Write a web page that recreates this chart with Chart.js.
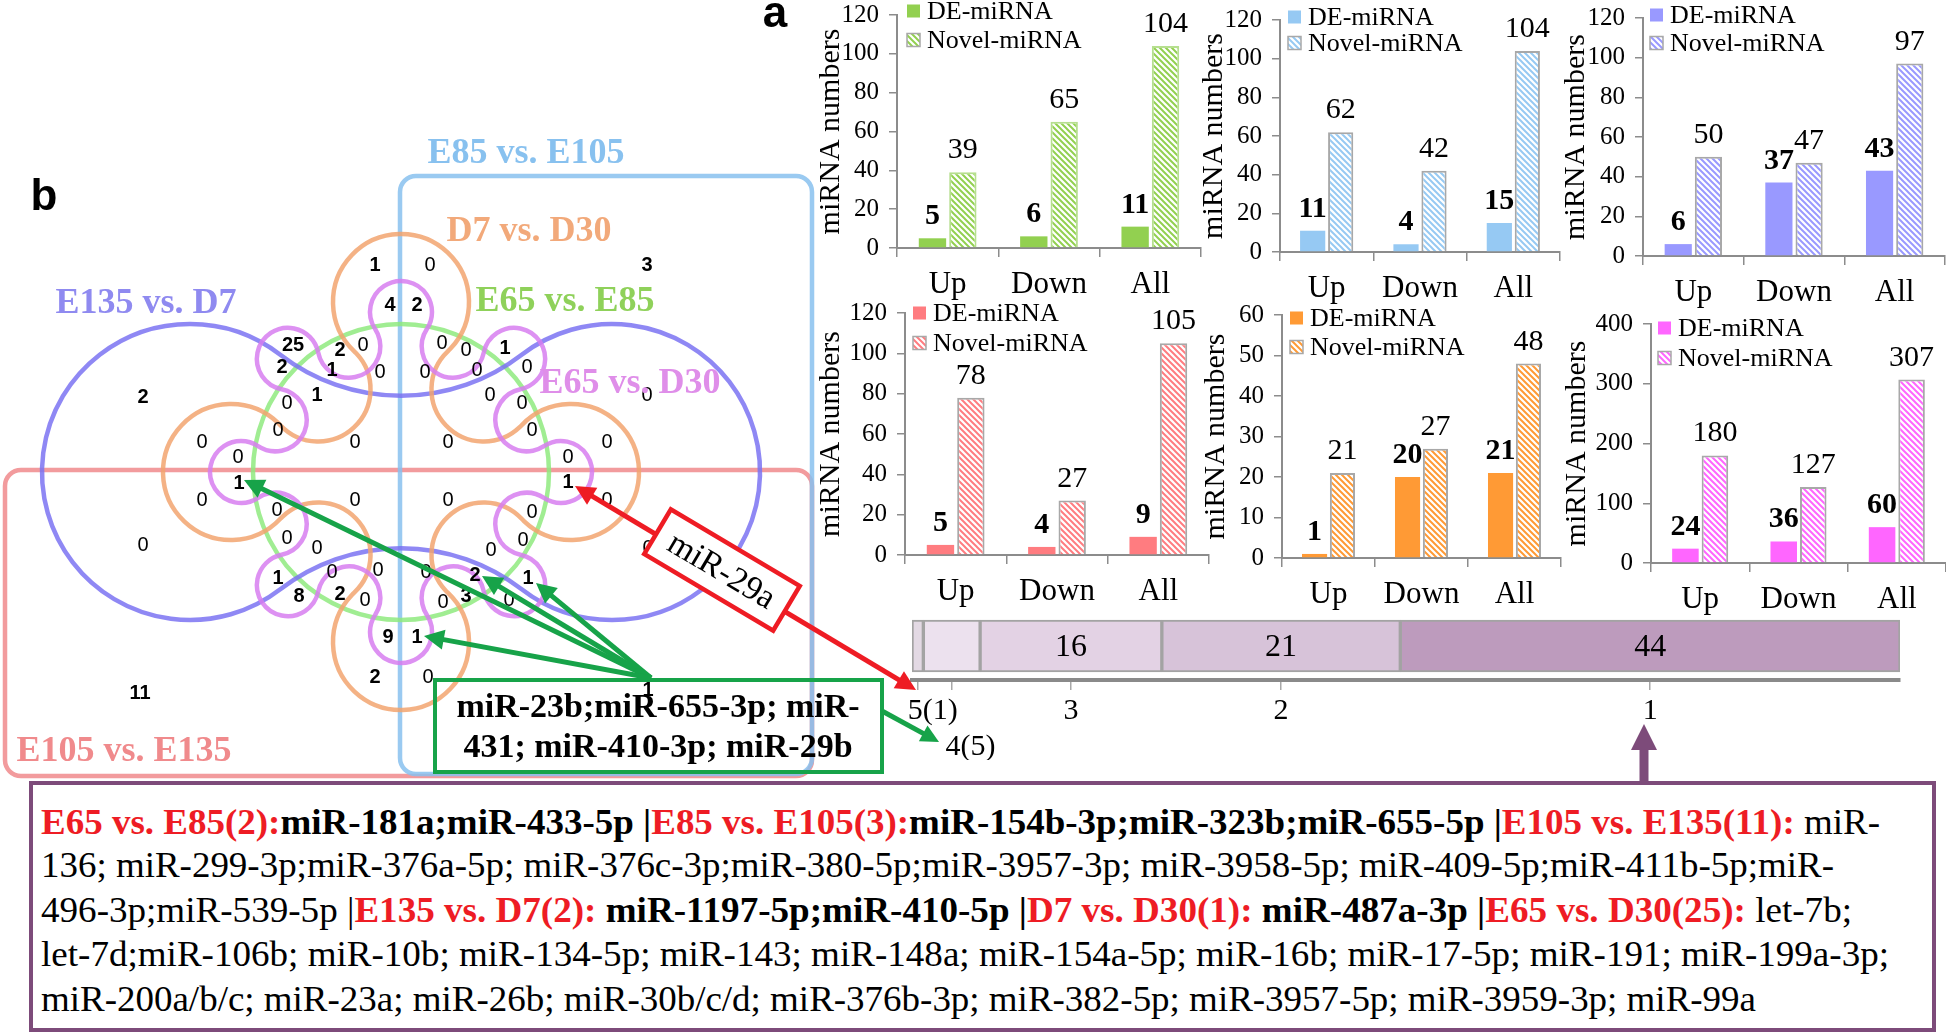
<!DOCTYPE html>
<html>
<head>
<meta charset="utf-8">
<title>DE-miRNA / Novel-miRNA</title>
<script src="https://cdn.jsdelivr.net/npm/chart.js@4.4.1/dist/chart.umd.min.js"></script>
<style>
  body { margin: 0; width: 1946px; height: 1033px; overflow: hidden; background: #fff; position: relative;
         font-family: "Liberation Serif", "Times New Roman", serif; }
  canvas { position: absolute; }
  #venn { z-index: 5; }
  #listBox { position: absolute; left: 29px; top: 781px; width: 1907px; height: 251px; box-sizing: border-box;
             border: 4px solid #7d4b7a; }
  .ln { position: absolute; left: 41px; white-space: nowrap; font-size: 36px; line-height: 1; transform-origin: 0 0; }
  .r { color: #ee1c24; font-weight: bold; }
  .b { font-weight: bold; }
</style>
</head>
<body>
<div id="listBox"></div>
<div class="ln" style="top:804px" data-w="1839"><span class="r">E65 vs. E85(2):</span><span class="b">miR-181a;miR-433-5p |</span><span class="r">E85 vs. E105(3):</span><span class="b">miR-154b-3p;miR-323b;miR-655-5p |</span><span class="r">E105 vs. E135(11):</span> miR-</div>
<div class="ln" style="top:847px" data-w="1793">136; miR-299-3p;miR-376a-5p; miR-376c-3p;miR-380-5p;miR-3957-3p; miR-3958-5p; miR-409-5p;miR-411b-5p;miR-</div>
<div class="ln" style="top:892px" data-w="1811">496-3p;miR-539-5p |<span class="r">E135 vs. D7(2):</span><span class="b"> miR-1197-5p;miR-410-5p |</span><span class="r">D7 vs. D30(1):</span><span class="b"> miR-487a-3p |</span><span class="r">E65 vs. D30(25):</span> let-7b;</div>
<div class="ln" style="top:936px" data-w="1848">let-7d;miR-106b; miR-10b; miR-134-5p; miR-143; miR-148a; miR-154a-5p; miR-16b; miR-17-5p; miR-191; miR-199a-3p;</div>
<div class="ln" style="top:981px" data-w="1715">miR-200a/b/c; miR-23a; miR-26b; miR-30b/c/d; miR-376b-3p; miR-382-5p; miR-3957-5p; miR-3959-3p; miR-99a</div>
<canvas id="stack" width="1060" height="160" style="left:860px;top:600px"></canvas>
<canvas id="venn" width="1946" height="1033" style="left:0;top:0"></canvas>
<script>
// ---- data ----
const categories = ['Up', 'Down', 'All'];

const deE65E85 = [5, 6, 11];
const novelE65E85 = [39, 65, 104];
const deE85E105 = [11, 4, 15];
const novelE85E105 = [62, 42, 104];
const deE135D7 = [6, 37, 43];
const novelE135D7 = [50, 47, 97];
const deE105E135 = [5, 4, 9];
const novelE105E135 = [78, 27, 105];
const deD7D30 = [1, 20, 21];
const novelD7D30 = [21, 27, 48];
const deE65D30 = [24, 36, 60];
const novelE65D30 = [180, 127, 307];

// miRNAs shared by n comparisons (label) and how many
const sharedBy = ['5(1)', '4(5)', '3', '2', '1'];
const sharedCounts = [1, 5, 16, 21, 44];

// counts of the Venn regions
const vennCounts = ['3', '1', '0', '4', '2', '25', '2', '0', '0', '0', '1', '2', '1', '0', '0', '0', '0',
  '2', '1', '0', '0', '0', '0', '0', '0', '0', '0', '0', '0', '0', '0', '1', '1',
  '0', '0', '0', '0', '0', '0', '0', '0', '0', '0', '0', '0', '0', '0', '0', '2', '1', '1', '8', '2',
  '0', '0', '3', '0', '9', '1', '2', '0', '11', '1'];

// ---- layout ----
const SERIF = '"Liberation Serif", "Times New Roman", serif';
const SANS = '"Liberation Sans", Arial, sans-serif';
const vennSpots = [[647, 265], [375, 265], [430, 265], [390, 305], [417, 305], [293, 345], [340, 350], [363, 345],
  [442, 343], [466, 350], [505, 348], [282, 367], [332, 370], [380, 372], [425, 372], [477, 370], [527, 367],
  [143, 397], [317, 395], [490, 395], [647, 395], [287, 403], [522, 403], [278, 430], [532, 430], [202, 442],
  [355, 442], [448, 442], [607, 442], [238, 457], [568, 457], [239, 483], [568, 482],
  [202, 500], [355, 500], [448, 500], [607, 500], [277, 510], [532, 512], [287, 538], [523, 540], [143, 545],
  [317, 548], [491, 550], [648, 548], [332, 572], [378, 570], [426, 572], [475, 575], [528, 578], [278, 578],
  [299, 596], [340, 594], [365, 600], [443, 602], [466, 596], [509, 600], [388, 637], [417, 637], [375, 677],
  [428, 677], [140, 693], [648, 690]];

Chart.defaults.animation = false;
Chart.defaults.responsive = false;
Chart.defaults.events = [];
Chart.defaults.color = '#000';
Chart.defaults.font.family = SERIF;
Chart.defaults.plugins.legend.display = false;
Chart.defaults.plugins.tooltip.enabled = false;

function hatch(color) {
  const c = document.createElement('canvas');
  c.width = 6; c.height = 6;
  const g = c.getContext('2d');
  g.fillStyle = '#fff';
  g.fillRect(0, 0, 6, 6);
  g.strokeStyle = color;
  g.lineWidth = 2;
  g.beginPath();
  g.moveTo(0, 0); g.lineTo(6, 6);
  g.moveTo(-3, 3); g.lineTo(3, 9);
  g.moveTo(3, -3); g.lineTo(9, 3);
  g.stroke();
  return g.createPattern(c, 'repeat');
}

// value labels above the bars, DE ones bold
const barLabels = {
  id: 'barLabels',
  afterDatasetsDraw(chart) {
    const ctx = chart.ctx;
    chart.data.datasets.forEach((ds, i) => {
      chart.getDatasetMeta(i).data.forEach((bar, j) => {
        ctx.save();
        ctx.font = (i === 0 ? 'bold ' : '') + '30px ' + SERIF;
        ctx.fillStyle = '#000';
        ctx.textAlign = 'center';
        ctx.fillText(ds.data[j], bar.x, bar.y - 14);
        ctx.restore();
      });
    });
  }
};

// small legend sitting over the top of the plot
function cornerLegend(p, canvasTop) {
  return {
    id: 'cornerLegend',
    afterDraw(chart) {
      const ctx = chart.ctx;
      const x0 = chart.chartArea.left + p.legDx;
      chart.data.datasets.forEach((ds, i) => {
        const yc = p.leg[i] - canvasTop;
        ctx.save();
        ctx.fillStyle = ds.backgroundColor;
        ctx.fillRect(x0, yc - 6.5, 13, 13);
        if (i === 1) {
          ctx.strokeStyle = '#a8a8a8';
          ctx.lineWidth = 1.5;
          ctx.strokeRect(x0, yc - 6.5, 13, 13);
        }
        ctx.fillStyle = '#000';
        ctx.font = '26px ' + SERIF;
        ctx.textBaseline = 'middle';
        ctx.fillText(ds.label, x0 + 20, yc + 1);
        ctx.restore();
      });
    }
  };
}

const panels = [
  { de: deE65E85, novel: novelE65E85, color: '#92d050', edge: '#b6df8f', max: 120, step: 20,
    axisX: 897, top: 15, bottom: 248, right: 1201, titleX: 831, legDx: 10, leg: [11, 40] },
  { de: deE85E105, novel: novelE85E105, color: '#96c9f3', edge: '#a8a8a8', max: 120, step: 20,
    axisX: 1280, top: 20, bottom: 252, right: 1560, titleX: 1214, legDx: 8, leg: [17, 43] },
  { de: deE135D7, novel: novelE135D7, color: '#9999ff', edge: '#a8a8a8', max: 120, step: 20,
    axisX: 1643, top: 18, bottom: 256, right: 1945, titleX: 1576, legDx: 7, leg: [15, 43] },
  { de: deE105E135, novel: novelE105E135, color: '#ff7c80', edge: '#a8a8a8', max: 120, step: 20,
    axisX: 905, top: 313, bottom: 555, right: 1209, titleX: 831, legDx: 8, leg: [313, 343] },
  { de: deD7D30, novel: novelD7D30, color: '#ff9a35', edge: '#a8a8a8', max: 60, step: 10,
    axisX: 1282, top: 315, bottom: 558, right: 1561, titleX: 1216, legDx: 8, leg: [318, 347] },
  { de: deE65D30, novel: novelE65D30, color: '#ff66ff', edge: '#a8a8a8', max: 400, step: 100,
    axisX: 1651, top: 324, bottom: 563, right: 1946, titleX: 1577, legDx: 7, leg: [328, 358] }
];

function barPanel(p) {
  const padTop = 30, xAxisH = 62;
  const left = p.titleX - 22;
  const top = p.top - padTop;
  const cv = document.createElement('canvas');
  cv.width = p.right - left + 4;
  cv.height = p.bottom - top + xAxisH;
  cv.style.left = left + 'px';
  cv.style.top = top + 'px';
  document.body.insertBefore(cv, document.getElementById('venn'));
  const yAxisW = p.axisX - left;

  return new Chart(cv, {
    type: 'bar',
    data: {
      labels: categories,
      datasets: [
        { label: 'DE-miRNA', data: p.de, backgroundColor: p.color, borderWidth: 0 },
        { label: 'Novel-miRNA', data: p.novel, backgroundColor: hatch(p.color), borderColor: p.edge, borderWidth: 2 }
      ]
    },
    options: {
      layout: { padding: { top: padTop, right: 4, left: 0, bottom: 0 } },
      datasets: { bar: { categoryPercentage: 0.6, barPercentage: 0.9, borderSkipped: 'bottom' } },
      scales: {
        x: {
          grid: { offset: true, drawOnChartArea: false, tickLength: 9, color: '#8c8c8c', lineWidth: 1.5 },
          border: { color: '#8c8c8c', width: 2 },
          ticks: { font: { size: 31 }, padding: 9, maxRotation: 0 },
          afterFit: s => { s.height = xAxisH; }
        },
        y: {
          min: 0, max: p.max,
          grid: { drawOnChartArea: false, tickLength: 8, color: '#8c8c8c', lineWidth: 1.5 },
          border: { color: '#8c8c8c', width: 2 },
          ticks: { stepSize: p.step, font: { size: 25 }, padding: 10 },
          title: { display: true, text: 'miRNA numbers', font: { size: 30 }, padding: { top: 4, bottom: 0 } },
          afterFit: s => { s.width = yAxisW; }
        }
      }
    },
    plugins: [barLabels, cornerLegend(p, top)]
  });
}
panels.forEach(barPanel);

// ---- how many comparisons each DE-miRNA appears in ----
const sharedColors = ['#e3d9e4', '#ece1ee', '#e3d2e4', '#d7c3d9', '#bd9bbd'];
const sharedTotal = sharedCounts.reduce((a, b) => a + b, 0);
const sharedCenters = sharedCounts.map((v, i) => sharedCounts.slice(0, i).reduce((a, b) => a + b, 0) + v / 2);
// the two narrow segments have their labels pushed a little to the right
const NBSP = '\u00a0';

const segmentLabels = {
  id: 'segmentLabels',
  afterDatasetsDraw(chart) {
    const ctx = chart.ctx;
    chart.data.datasets.forEach((ds, i) => {
      const bar = chart.getDatasetMeta(i).data[0];
      if (Math.abs(bar.x - bar.base) < 60) return;
      ctx.save();
      ctx.font = '32px ' + SERIF;
      ctx.fillStyle = '#000';
      ctx.textAlign = 'center';
      ctx.textBaseline = 'middle';
      ctx.fillText(ds.data[0], (bar.x + bar.base) / 2, bar.y + 2);
      ctx.restore();
    });
  }
};

new Chart(document.getElementById('stack'), {
  type: 'bar',
  data: {
    labels: [''],
    datasets: sharedCounts.map((v, i) => ({
      label: sharedBy[i], data: [v], backgroundColor: sharedColors[i],
      borderColor: '#a3a3a3', borderWidth: 2, borderSkipped: false, barThickness: 52
    }))
  },
  options: {
    indexAxis: 'y',
    layout: { padding: { top: 12, left: 52, right: 20, bottom: 0 } },
    scales: {
      x: {
        stacked: true, min: 0, max: sharedTotal,
        afterBuildTicks: s => { s.ticks = sharedCenters.map(v => ({ value: v })); },
        ticks: {
          autoSkip: false, maxRotation: 0, padding: 3, font: { size: 30 },
          callback: (v, i) => {
            if (i === 0) return NBSP.repeat(4) + sharedBy[i];
            if (i === 1) return ['', NBSP.repeat(5) + sharedBy[i]];
            return sharedBy[i];
          }
        },
        grid: { drawOnChartArea: false, tickLength: 10, color: '#a8a8a8', lineWidth: 1.5 },
        border: { color: '#8a8a8a', width: 4 },
        afterFit: s => { s.height = 80; }
      },
      y: { stacked: true, display: false }
    }
  },
  plugins: [segmentLabels]
});

// ---- Venn diagram (panel b) and the annotation arrows ----
const VC = { x: 401, y: 472 };

function cogPath(ctx, cx, cy, n, outD, outR, inD, phase) {
  const circles = [];
  for (let k = 0; k < 2 * n; k++) {
    const a = phase + k * Math.PI / n;
    const out = k % 2 === 0;
    const d = out ? outD : inD;
    circles.push({ x: cx + d * Math.cos(a), y: cy + d * Math.sin(a), out });
  }
  const rin = Math.hypot(circles[0].x - circles[1].x, circles[0].y - circles[1].y) - outR;
  ctx.beginPath();
  circles.forEach((c, k) => {
    const p = circles[(k - 1 + circles.length) % circles.length];
    const q = circles[(k + 1) % circles.length];
    const a1 = Math.atan2(p.y - c.y, p.x - c.x);
    const a2 = Math.atan2(q.y - c.y, q.x - c.x);
    ctx.arc(c.x, c.y, c.out ? outR : rin, a1, a2, !c.out);
  });
  ctx.closePath();
}

function arrowHead(ctx, x, y, a, h) {
  ctx.beginPath();
  ctx.moveTo(x, y);
  ctx.lineTo(x - h * Math.cos(a) + h * 0.5 * Math.sin(a), y - h * Math.sin(a) - h * 0.5 * Math.cos(a));
  ctx.lineTo(x - h * Math.cos(a) - h * 0.5 * Math.sin(a), y - h * Math.sin(a) + h * 0.5 * Math.cos(a));
  ctx.closePath();
  ctx.fill();
}

function arrow(ctx, x1, y1, x2, y2, color, w, h, both) {
  const a = Math.atan2(y2 - y1, x2 - x1);
  const c = Math.cos(a), s = Math.sin(a);
  ctx.strokeStyle = color;
  ctx.fillStyle = color;
  ctx.lineWidth = w;
  ctx.beginPath();
  ctx.moveTo(both ? x1 + c * h * 0.8 : x1, both ? y1 + s * h * 0.8 : y1);
  ctx.lineTo(x2 - c * h * 0.8, y2 - s * h * 0.8);
  ctx.stroke();
  arrowHead(ctx, x2, y2, a, h);
  if (both) arrowHead(ctx, x1, y1, a + Math.PI, h);
}

const vennPlugin = {
  id: 'vennShapes',
  beforeDatasetsDraw(chart) {
    const { ctx, scales: { x, y } } = chart;
    const px = v => x.getPixelForValue(v), py = v => y.getPixelForValue(v);
    const len = v => px(v) - px(0);
    const cx = px(VC.x), cy = py(VC.y);
    ctx.save();
    ctx.lineWidth = 4.5;
    ctx.globalAlpha = 0.85;
    ctx.strokeStyle = '#f08a8c';
    ctx.beginPath(); ctx.roundRect(px(5), py(470), len(807), len(306), 16); ctx.stroke();
    ctx.strokeStyle = '#88c1ef';
    ctx.beginPath(); ctx.roundRect(px(400), py(176), len(412), len(598), 16); ctx.stroke();
    ctx.strokeStyle = '#8fea7f';
    ctx.beginPath(); ctx.arc(cx, cy, len(148), 0, 2 * Math.PI); ctx.stroke();
    ctx.strokeStyle = '#7b73f2';
    cogPath(ctx, cx, cy, 2, len(211), len(148), len(274), 0); ctx.stroke();
    ctx.strokeStyle = '#f2a470';
    cogPath(ctx, cx, cy, 4, len(170), len(68), len(117), 0); ctx.stroke();
    ctx.strokeStyle = '#d77ef0';
    cogPath(ctx, cx, cy, 8, len(160), len(31), len(136), 0); ctx.stroke();
    ctx.restore();
  },
  afterDatasetsDraw(chart) {
    const { ctx } = chart;
    ctx.save();
    ctx.textAlign = 'center';
    ctx.textBaseline = 'middle';
    ctx.fillStyle = '#000';
    chart.getDatasetMeta(0).data.forEach((pt, i) => {
      const t = vennCounts[i];
      ctx.font = (t !== '0' ? 'bold ' : '') + '20px ' + SANS;
      ctx.fillText(t, pt.x, pt.y);
    });

    const setNames = [
      ['E85 vs. E105', '#88c1ef', 526, 154], ['D7 vs. D30', '#f2a97a', 529, 232],
      ['E65 vs. E85', '#8fd15a', 565, 302], ['E65 vs. D30', '#df8ee9', 630, 384],
      ['E135 vs. D7', '#8f8af0', 146, 304], ['E105 vs. E135', '#f08a8c', 124, 752]
    ];
    ctx.font = 'bold 36px ' + SERIF;
    setNames.forEach(([t, c, x, y]) => { ctx.fillStyle = c; ctx.fillText(t, x, y); });

    ctx.fillStyle = '#000';
    ctx.font = 'bold 44px ' + SANS;
    ctx.textBaseline = 'alphabetic';
    ctx.fillText('b', 44, 210);
    ctx.fillText('a', 775, 27);

    // green: five miRNAs shared by four comparisons
    const greenTips = [[244, 480], [482, 576], [536, 583], [424, 636]];
    greenTips.forEach(([tx, ty]) => arrow(ctx, 651, 678, tx, ty, '#17a349', 5, 20, false));
    arrow(ctx, 882, 711, 939, 742, '#17a349', 5, 18, false);
    ctx.lineWidth = 4;
    ctx.strokeStyle = '#17a349';
    ctx.strokeRect(435, 680, 447, 92);
    ctx.fillStyle = '#000';
    ctx.font = 'bold 34px ' + SERIF;
    ctx.textBaseline = 'middle';
    ctx.fillText('miR-23b;miR-655-3p; miR-', 658, 708, 434);
    ctx.fillText('431; miR-410-3p; miR-29b', 658, 748, 428);

    // red: shared by five
    arrow(ctx, 575, 486, 916, 690, '#ee1c24', 5, 20, true);
    ctx.save();
    ctx.translate(722, 570);
    ctx.rotate(Math.atan2(207, 348));
    ctx.fillStyle = '#fff';
    ctx.fillRect(-75, -26, 150, 52);
    ctx.strokeStyle = '#ee1c24';
    ctx.lineWidth = 4.5;
    ctx.strokeRect(-75, -26, 150, 52);
    ctx.fillStyle = '#000';
    ctx.font = '34px ' + SERIF;
    ctx.fillText('miR-29a', 0, 2);
    ctx.restore();

    // purple: list of the comparison specific ones
    arrow(ctx, 1644, 783, 1644, 724, '#7d4b7a', 9, 26, false);
    ctx.restore();
  }
};

new Chart(document.getElementById('venn'), {
  type: 'scatter',
  data: { datasets: [{ data: vennSpots.map(([sx, sy]) => ({ x: sx, y: sy })), pointRadius: 0 }] },
  options: {
    layout: { padding: 0 },
    scales: {
      x: { type: 'linear', min: 0, max: 1946, display: false },
      y: { type: 'linear', min: 0, max: 1033, reverse: true, display: false }
    }
  },
  plugins: [vennPlugin]
});

// fit the text lines of the list box to their widths
document.querySelectorAll('.ln').forEach(el => {
  const w = el.getBoundingClientRect().width;
  el.style.transform = 'scaleX(' + (Number(el.dataset.w) / w) + ')';
});
</script>
</body>
</html>
